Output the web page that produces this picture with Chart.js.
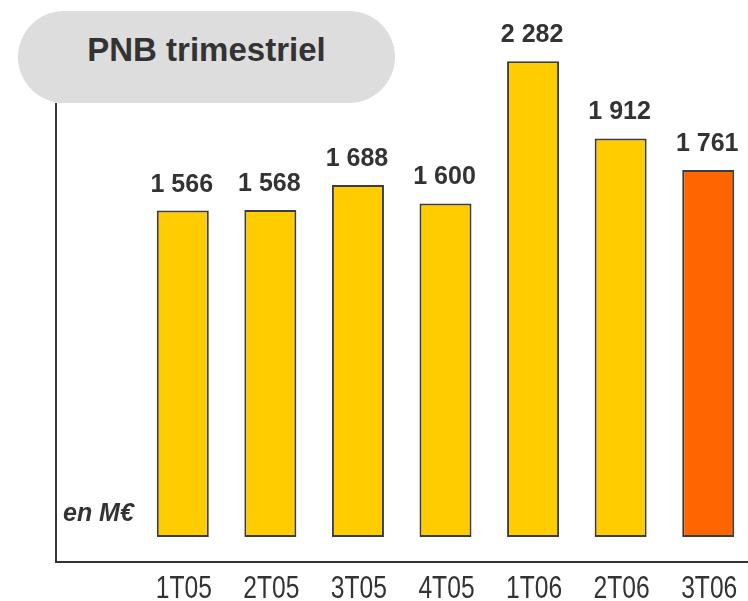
<!DOCTYPE html>
<html>
<head>
<meta charset="utf-8">
<script src="https://cdn.jsdelivr.net/npm/chart.js@4"></script>
<style>
  html, body { margin: 0; padding: 0; background: #fff; }
  #wrap { position: relative; width: 748px; height: 601px; overflow: hidden; }
  #chart { position: absolute; left: 0; top: 0; }
  .pill {
    position: absolute; left: 18px; top: 11px; width: 377px; height: 92px;
    border-radius: 46px; background: #dddddd;
    font: bold 33px "Liberation Sans", Arial, sans-serif; color: #333;
    text-align: center; line-height: 78px;
  }
  .unit {
    position: absolute; left: 63px; top: 498px;
    font: italic bold 25px "Liberation Sans", Arial, sans-serif; color: #333;
  }
</style>
</head>
<body>
<div id="wrap">
  <canvas id="chart" width="752" height="601"></canvas>
  <div class="pill">PNB trimestriel</div>
  <div class="unit">en M€</div>
</div>
<script>
// ===== Data =====
const quarters = ["1T05", "2T05", "3T05", "4T05", "1T06", "2T06", "3T06"];
const pnb = [1566, 1568, 1688, 1600, 2282, 1912, 1761];
const barColors = ["#FFCC00", "#FFCC00", "#FFCC00", "#FFCC00", "#FFCC00", "#FFCC00", "#FF6600"];

// ===== Helpers =====
const fmt = (v) => {
  const th = Math.floor(v / 1000);
  const rest = String(v % 1000).padStart(3, "0");
  return th ? `${th} ${rest}` : String(v);
};

// axes drawn by hand: vertical line starts under the title pill
const axisLines = {
  id: "axisLines",
  afterDatasetsDraw(chart) {
    const { ctx, chartArea } = chart;
    ctx.save();
    ctx.strokeStyle = "#333";
    ctx.lineWidth = 2;
    ctx.beginPath();
    ctx.moveTo(56, 103);
    ctx.lineTo(56, chartArea.bottom);
    ctx.lineTo(chart.width, chartArea.bottom);
    ctx.stroke();
    ctx.restore();
  },
};

// condensed quarter labels (no narrow face installed, so squeeze it)
const quarterLabels = {
  id: "quarterLabels",
  afterDraw(chart) {
    const { ctx, chartArea } = chart;
    const xs = chart.scales.x;
    ctx.save();
    ctx.font = '32px "Liberation Sans", Arial, sans-serif';
    ctx.fillStyle = "#333";
    ctx.textAlign = "center";
    ctx.textBaseline = "alphabetic";
    xs.ticks.forEach((t, i) => {
      ctx.save();
      ctx.translate(xs.getPixelForTick(i) + 1, chartArea.bottom + 36);
      ctx.scale(0.77, 1);
      ctx.fillText(xs.getLabelForValue(t.value), 0, 0);
      ctx.restore();
    });
    ctx.restore();
  },
};

const valueLabels = {
  id: "valueLabels",
  afterDatasetsDraw(chart) {
    const { ctx } = chart;
    const meta = chart.getDatasetMeta(0);
    ctx.save();
    ctx.font = 'bold 25px "Liberation Sans", Arial, sans-serif';
    ctx.fillStyle = "#333";
    ctx.textAlign = "center";
    ctx.textBaseline = "alphabetic";
    meta.data.forEach((bar, i) => {
      ctx.fillText(fmt(pnb[i]), bar.x - 1, bar.y - 19);
    });
    ctx.restore();
  },
};

new Chart(document.getElementById("chart"), {
  type: "bar",
  data: {
    labels: quarters,
    datasets: [
      {
        data: pnb,
        backgroundColor: barColors,
        borderColor: "#3c3c3c",
        borderWidth: 2,
        borderSkipped: false,
        categoryPercentage: 1,
        barPercentage: 0.594,
      },
    ],
  },
  options: {
    responsive: false,
    animation: false,
    layout: { padding: { left: 139, right: 0, top: 0, bottom: 39 } },
    plugins: { legend: { display: false }, tooltip: { enabled: false } },
    scales: {
      y: { display: false, min: -120, max: 2576 },
      x: {
        grid: { display: false, drawTicks: false },
        border: { display: false },
        ticks: { display: false },
      },
    },
  },
  plugins: [axisLines, valueLabels, quarterLabels],
});
</script>
</body>
</html>
